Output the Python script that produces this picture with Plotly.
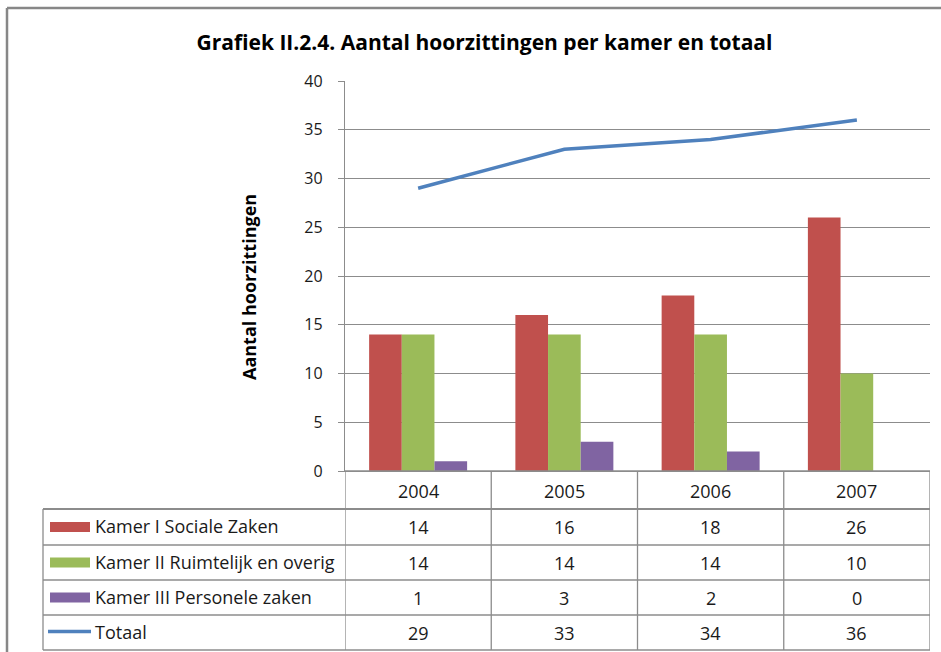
import plotly.graph_objects as go

years = ["2004", "2005", "2006", "2007"]
kamer1 = [14, 16, 18, 26]
kamer2 = [14, 14, 14, 10]
kamer3 = [1, 3, 2, 0]
totaal = [29, 33, 34, 36]
series_names = ["Kamer I Sociale Zaken", "Kamer II Ruimtelijk en overig",
                "Kamer III Personele zaken", "Totaal"]
colors = ["#C0504D", "#9BBB59", "#8064A2", "#4F81BD"]
title_text = "Grafiek II.2.4. Aantal hoorzittingen per kamer en totaal"
y_title = "Aantal hoorzittingen"

W, H = 941, 652
PX0, PX1, PY0, PY1 = 345, 930, 81, 471  # plot area in pixels


def px(x):
    return (x - PX0) / (PX1 - PX0)


def py(y):
    return (PY1 - y) / (PY1 - PY0)


FONT = "Open Sans, Calibri, sans-serif"
GRID = "#8c8c8c"
TXT = "#1a1a1a"

fig = go.Figure()
for vals, name, col in zip([kamer1, kamer2, kamer3], series_names[:3], colors[:3]):
    fig.add_trace(go.Bar(x=years, y=vals, name=name, marker_color=col,
                         marker_line_width=0))
fig.add_trace(go.Scatter(x=years, y=totaal, name=series_names[3], mode="lines",
                         line=dict(color=colors[3], width=3.5)))

shapes = []
annotations = []

# outer chart border (left + top)
shapes.append(dict(type="line", xref="paper", yref="paper", x0=px(7), x1=px(945),
                   y0=py(8), y1=py(8), line=dict(color="#878787", width=2.5)))
shapes.append(dict(type="line", xref="paper", yref="paper", x0=px(7), x1=px(7),
                   y0=py(8), y1=py(660), line=dict(color="#878787", width=2.5)))

# data table
row_edges = [471, 509, 545, 580, 615, 650]
table_left = 43
for i, ry in enumerate(row_edges):
    xl = PX0 if i == 0 else table_left
    shapes.append(dict(type="line", xref="paper", yref="paper", x0=px(xl), x1=px(PX1),
                       y0=py(ry), y1=py(ry),
                       line=dict(color=GRID, width=2 if i == 1 else 1.3)))
for k in range(len(years) + 1):
    shapes.append(dict(type="line", xref="x", yref="paper", x0=k - 0.5, x1=k - 0.5,
                       y0=py(471), y1=py(650), line=dict(color=GRID, width=1.3)))
shapes.append(dict(type="line", xref="paper", yref="paper", x0=px(table_left),
                   x1=px(table_left), y0=py(509), y1=py(650),
                   line=dict(color=GRID, width=1.3)))

for k, yr in enumerate(years):
    annotations.append(dict(x=k, xref="x", y=py(491), yref="paper", text=yr,
                            xanchor="center", yanchor="middle",
                            showarrow=False, font=dict(family=FONT, size=18, color=TXT)))

rows = [kamer1, kamer2, kamer3, totaal]
for r, (vals, name, col) in enumerate(zip(rows, series_names, colors)):
    top, bot = row_edges[r + 1], row_edges[r + 2]
    cy = (top + bot) / 2
    for k in range(len(years)):
        annotations.append(dict(x=k, xref="x", y=py(cy), yref="paper", text=str(vals[k]),
                                xanchor="center", yanchor="middle",
                                showarrow=False, font=dict(family=FONT, size=18, color=TXT)))
    if r < 3:
        shapes.append(dict(type="rect", xref="paper", yref="paper", x0=px(50), x1=px(90),
                           y0=py(cy - 5), y1=py(cy + 5), fillcolor=col, line=dict(width=0)))
    else:
        shapes.append(dict(type="line", xref="paper", yref="paper", x0=px(48), x1=px(91),
                           y0=py(cy - 1), y1=py(cy - 1), line=dict(color=col, width=3.5)))
    annotations.append(dict(x=px(93), xref="paper", y=py(cy - 1), yref="paper", text=name,
                            xanchor="left", yanchor="middle", showarrow=False,
                            font=dict(family=FONT, size=18, color=TXT)))

annotations.append(dict(x=px(249), xref="paper", y=py(287), yref="paper",
                        text="<b>" + y_title + "</b>", textangle=-90, showarrow=False,
                        xanchor="center", yanchor="middle",
                        font=dict(family=FONT, size=18, color="#000")))

fig.update_layout(
    width=W, height=H,
    margin=dict(l=PX0, r=W - PX1, t=PY0, b=H - PY1, pad=0),
    paper_bgcolor="white", plot_bgcolor="white",
    title=dict(text="<b>" + title_text + "</b>", xref="container", x=484.5 / W,
               xanchor="center", yref="container", y=1 - 43 / H, yanchor="middle",
               font=dict(family=FONT, size=21, color="#000")),
    showlegend=False,
    barmode="group", bargap=0.33, bargroupgap=0,
    shapes=shapes, annotations=annotations,
    font=dict(family=FONT, size=16, color=TXT),
)
fig.update_yaxes(range=[0, 40], dtick=5, showgrid=True, gridcolor=GRID, gridwidth=1.3,
                 showline=True, linecolor=GRID, linewidth=1.3, ticks="outside",
                 ticklen=6, tickcolor=GRID, zeroline=False,
                 tickfont=dict(family=FONT, size=16, color=TXT), ticklabelstandoff=12)
fig.update_xaxes(type="category", range=[-0.5, len(years) - 0.5], autorange=False,
                 showticklabels=False, showline=True, linecolor=GRID,
                 linewidth=1.3, showgrid=False, ticks="")

fig.write_html("out.html", config={"displayModeBar": False},
               post_script="document.body.style.margin='0';")
